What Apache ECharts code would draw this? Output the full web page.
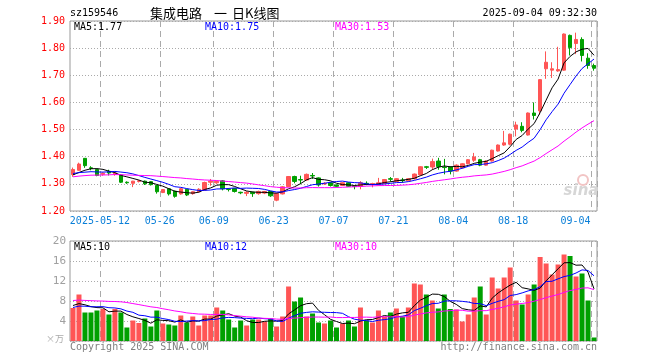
<!DOCTYPE html>
<html><head><meta charset="utf-8">
<script src="https://cdn.jsdelivr.net/npm/echarts@6/dist/echarts.min.js"></script>
<style>html,body{margin:0;padding:0;background:#fff}#c{width:660px;height:360px}</style>
</head><body><div id="c"></div>
<script>
const year = '2025';
const dates = [
 '04-30',
 '05-06','05-07','05-08','05-09','05-12','05-13','05-14','05-15','05-16','05-19','05-20','05-21','05-22','05-23','05-26','05-27','05-28','05-29','05-30',
 '06-03','06-04','06-05','06-06','06-09','06-10','06-11','06-12','06-13','06-16','06-17','06-18','06-19','06-20','06-23','06-24','06-25','06-26','06-27','06-30',
 '07-01','07-02','07-03','07-04','07-07','07-08','07-09','07-10','07-11','07-14','07-15','07-16','07-17','07-18','07-21','07-22','07-23','07-24','07-25','07-28','07-29','07-30','07-31',
 '08-01','08-04','08-05','08-06','08-07','08-08','08-11','08-12','08-13','08-14','08-15','08-18','08-19','08-20','08-21','08-22','08-25','08-26','08-27','08-28','08-29',
 '09-01','09-02','09-03','09-04'
];
const labelDates = ['05-12','05-26','06-09','06-23','07-07','07-21','08-04','08-18','09-04'];

const opens = [
 1.334,1.350,1.394,1.359,1.353,1.335,1.346,1.336,1.333,1.306,
 1.302,1.309,1.310,1.308,1.294,1.268,1.282,1.273,1.263,1.280,
 1.264,1.271,1.277,1.306,1.304,1.311,1.280,1.283,1.269,1.265,
 1.269,1.264,1.266,1.272,1.240,1.263,1.290,1.327,1.316,1.314,
 1.331,1.322,1.300,1.304,1.296,1.294,1.304,1.292,1.291,1.302,
 1.298,1.296,1.301,1.319,1.309,1.314,1.311,1.319,1.333,1.363,
 1.362,1.384,1.362,1.362,1.347,1.359,1.374,1.387,1.389,1.369,
 1.384,1.421,1.443,1.446,1.502,1.512,1.480,1.561,1.569,1.724,
 1.719,1.716,1.719,1.847,1.817,1.832,1.763,1.736
];
const closes = [
 1.353,1.373,1.367,1.357,1.331,1.339,1.340,1.340,1.306,1.304,
 1.310,1.311,1.300,1.297,1.271,1.279,1.263,1.254,1.282,1.259,
 1.271,1.280,1.305,1.310,1.309,1.282,1.279,1.272,1.267,1.269,
 1.264,1.272,1.272,1.256,1.265,1.289,1.327,1.309,1.314,1.335,
 1.329,1.296,1.302,1.294,1.291,1.304,1.291,1.290,1.304,1.300,
 1.301,1.304,1.316,1.317,1.319,1.312,1.319,1.336,1.363,1.361,
 1.382,1.364,1.360,1.347,1.369,1.374,1.389,1.399,1.369,1.384,
 1.424,1.443,1.451,1.483,1.517,1.497,1.561,1.552,1.684,1.748,
 1.724,1.721,1.852,1.802,1.832,1.773,1.736,1.726
];
const lows = [
 1.326,1.348,1.359,1.350,1.328,1.330,1.331,1.330,1.303,1.300,
 1.288,1.305,1.296,1.294,1.264,1.266,1.257,1.249,1.260,1.255,
 1.260,1.268,1.275,1.293,1.300,1.276,1.272,1.268,1.262,1.255,
 1.252,1.260,1.262,1.252,1.236,1.261,1.288,1.302,1.299,1.312,
 1.318,1.290,1.296,1.290,1.287,1.292,1.289,1.280,1.280,1.295,
 1.287,1.294,1.299,1.308,1.307,1.304,1.309,1.316,1.331,1.355,
 1.352,1.352,1.335,1.335,1.345,1.357,1.372,1.381,1.365,1.367,
 1.382,1.419,1.440,1.442,1.475,1.490,1.478,1.537,1.555,1.687,
 1.690,1.713,1.717,1.773,1.778,1.751,1.724,1.717
];
const highs = [
 1.360,1.378,1.395,1.365,1.354,1.342,1.352,1.343,1.336,1.309,
 1.311,1.314,1.312,1.310,1.296,1.281,1.283,1.275,1.285,1.281,
 1.273,1.284,1.308,1.318,1.312,1.314,1.284,1.285,1.271,1.273,
 1.271,1.275,1.274,1.274,1.267,1.292,1.329,1.330,1.330,1.338,
 1.340,1.324,1.306,1.306,1.298,1.306,1.306,1.294,1.310,1.309,
 1.304,1.322,1.318,1.325,1.321,1.322,1.321,1.338,1.365,1.366,
 1.393,1.396,1.392,1.364,1.372,1.376,1.391,1.414,1.392,1.386,
 1.426,1.445,1.495,1.485,1.529,1.527,1.563,1.600,1.686,1.788,
 1.748,1.805,1.854,1.850,1.857,1.840,1.781,1.743
];
const volumes = [
 6.6,9.3,5.7,5.7,6.1,6.4,5.3,6.4,5.7,2.7,
 4.1,3.6,4.5,2.9,6.1,3.5,3.3,3.1,5.1,3.7,
 4.9,3.1,5.1,5.1,6.7,6.1,4.3,2.7,4.1,3.1,
 4.3,4.3,3.9,4.5,2.9,4.9,10.9,7.9,8.7,4.9,
 5.5,3.7,3.5,4.1,2.7,3.5,4.1,2.9,6.7,4.1,
 3.7,6.1,4.9,5.7,6.5,4.9,6.7,11.5,11.3,9.3,
 8.1,6.5,9.3,6.4,6.3,3.9,5.3,8.7,10.9,5.3,
 12.7,10.5,12.7,14.7,8.1,7.3,9.3,11.3,16.8,15.5,
 13.3,15.3,17.3,17.0,12.9,13.5,8.1,0.7
];
// sessions before the visible window (estimated from where the MA lines start)
const priorCloses = [
 1.30,1.31,1.31,1.32,1.33,1.32,1.31,1.32,1.33,1.34,
 1.33,1.32,1.31,1.32,1.33,1.32,1.31,1.32,1.33,1.32,
 1.34,1.35,1.34,1.34,1.345,1.33,1.325,1.33,1.328
];
const priorVolumes = [
 7.0,7.5,7.2,7.8,7.1,7.4,6.9,7.6,6.8,
 10.5,9.8,11.2,9.5,10.3,10.8,9.6,10.1,9.9,10.4,8.6,
 6.5,5.9,6.8,6.1,6.2,7.4,6.9,7.5,7.1
];
const titleParts = ['集成电路', '一', '日K线图'];
const priceMaLabels = ['MA5:1.77','MA10:1.75','MA30:1.53'];
const volMaLabels = ['MA5:10','MA10:12','MA30:10'];
const maPeriods = [5,10,30];
const maColors = ['#000000','#0000ff','#ff00ff'];

const RED = '#ff5555', GREEN = '#00a000';
const MONO = '"DejaVu Sans Mono", monospace';
const CJK = '"Noto Sans CJK SC", sans-serif';

function movingAverage(vals, prior, n) {
  const all = prior.concat(vals);
  return vals.map((_, i) => {
    const j = i + prior.length;
    let s = 0;
    for (let k = 0; k < n; k++) s += all[j - k];
    return +(s / n).toFixed(4);
  });
}

const fullDates = dates.map(d => year + '-' + d);
const labelIdx = new Set(labelDates.map(d => dates.indexOf(d)));
const lastIdx = dates.length - 1;
const showFn = (i) => labelIdx.has(i);

const candleData = dates.map((d, i) => [opens[i], closes[i], lows[i], highs[i]]);
const volData = volumes.map((v, i) => ({value: v, itemStyle: {color: closes[i] >= opens[i] ? RED : GREEN}}));

const series = [{
  type: 'candlestick', xAxisIndex: 0, yAxisIndex: 0, barWidth: 4,
  data: candleData,
  itemStyle: {color: RED, color0: GREEN, borderColor: RED, borderColor0: GREEN, borderWidth: 1}
}];
maPeriods.forEach((p, k) => {
  series.push({type: 'line', xAxisIndex: 0, yAxisIndex: 0, showSymbol: false, silent: true, z: 3,
    data: movingAverage(closes, priorCloses, p), lineStyle: {width: 1, color: maColors[k]}});
});
series.push({type: 'bar', xAxisIndex: 1, yAxisIndex: 1, barWidth: 5, data: volData});
maPeriods.forEach((p, k) => {
  series.push({type: 'line', xAxisIndex: 1, yAxisIndex: 1, showSymbol: false, silent: true, z: 3,
    data: movingAverage(volumes, priorVolumes, p), lineStyle: {width: 1, color: maColors[k]}});
});

const dashSplit = {show: true, interval: (i) => showFn(i), lineStyle: {color: '#aaaaaa', type: [6, 4], width: 1}};
const dotSplit = {show: true, lineStyle: {color: '#aaaaaa', type: [1, 2], width: 1}};

function txt(text, x, y, color, opts) {
  return Object.assign({type: 'text', x: x, y: y, z: 10, silent: true,
    style: Object.assign({text: text, fill: color, fontFamily: MONO, fontSize: 10, align: 'left', verticalAlign: 'middle'}, (opts || {}))});
}

const graphics = [
  txt('sz159546', 70, 13, '#000'),
  txt(titleParts[0], 150, 13, '#000', {fontFamily: CJK, fontSize: 13}),
  txt(titleParts[1], 214, 13, '#000', {fontFamily: CJK, fontSize: 13}),
  txt(titleParts[2], 232, 13, '#000', {fontFamily: CJK, fontSize: 13}),
  txt('2025-09-04 09:32:30', 597, 13, '#000', {align: 'right'}),
  txt(priceMaLabels[0], 74, 27, maColors[0]),
  txt(priceMaLabels[1], 205, 27, maColors[1]),
  txt(priceMaLabels[2], 335, 27, maColors[2]),
  txt(volMaLabels[0], 74, 247, maColors[0]),
  txt(volMaLabels[1], 205, 247, maColors[1]),
  txt(volMaLabels[2], 335, 247, maColors[2]),
  txt('×万', 64, 339, '#aaaaaa', {align: 'right', fontFamily: CJK, fontSize: 9}),
  txt('Copyright 2025 SINA.COM', 70, 347, '#808080'),
  txt('http://finance.sina.com.cn', 597, 347, '#808080', {align: 'right'}),
  {type: 'circle', shape: {cx: 583, cy: 180, r: 5}, z: 1, silent: true, style: {fill: 'none', stroke: '#f2c4c4', lineWidth: 2}},
  txt('sina', 581, 191, '#d6d6d6', {align: 'center', fontFamily: '"DejaVu Sans", sans-serif', fontSize: 15, fontWeight: 'bold', fontStyle: 'italic'})
];

const chart = echarts.init(document.getElementById('c'), null, {renderer: 'canvas'});
chart.setOption({
  animation: false,
  backgroundColor: '#fff',
  textStyle: {fontFamily: MONO},
  grid: [
    {left: 70, top: 21, width: 527, height: 190, show: true, borderColor: '#999', borderWidth: 1, backgroundColor: 'transparent'},
    {left: 70, top: 241, width: 527, height: 100, show: true, borderColor: '#999', borderWidth: 1, backgroundColor: 'transparent'}
  ],
  xAxis: [
    {type: 'category', gridIndex: 0, data: fullDates, boundaryGap: true,
      axisLine: {show: false}, axisTick: {show: false}, splitLine: dashSplit,
      axisLabel: {show: true, interval: (i) => showFn(i), margin: 5, color: '#0a7fd8', fontFamily: MONO, fontSize: 10,
        formatter: (v, i) => {
          if (i === lastIdx) return '{e|' + v.slice(5) + '}';
          const first = dates.indexOf(labelDates[0]);
          return '{n|' + (i === first ? v : v.slice(5)) + '}';
        },
        rich: {n: {padding: [0, 6, 0, 0], color: '#0a7fd8', fontFamily: MONO, fontSize: 10},
               e: {padding: [0, 37, 0, 0], color: '#0a7fd8', fontFamily: MONO, fontSize: 10}}}},
    {type: 'category', gridIndex: 1, data: fullDates, boundaryGap: true,
      axisLine: {show: false}, axisTick: {show: false}, axisLabel: {show: false}, splitLine: dashSplit}
  ],
  yAxis: [
    {type: 'value', gridIndex: 0, min: 1.2, max: 1.9, interval: 0.1, scale: true,
      axisLine: {show: false}, axisTick: {show: false}, splitLine: dotSplit,
      axisLabel: {margin: 5, color: '#ff0000', fontFamily: MONO, fontSize: 10, formatter: v => v.toFixed(2)}},
    {type: 'value', gridIndex: 1, min: 0, max: 20, interval: 4,
      axisLine: {show: false}, axisTick: {show: false}, splitLine: dotSplit,
      axisLabel: {margin: 4, color: '#a0a0a0', fontFamily: MONO, fontSize: 11, formatter: v => v === 0 ? '' : String(v)}}
  ],
  series: series,
  graphic: graphics
});
</script></body></html>
